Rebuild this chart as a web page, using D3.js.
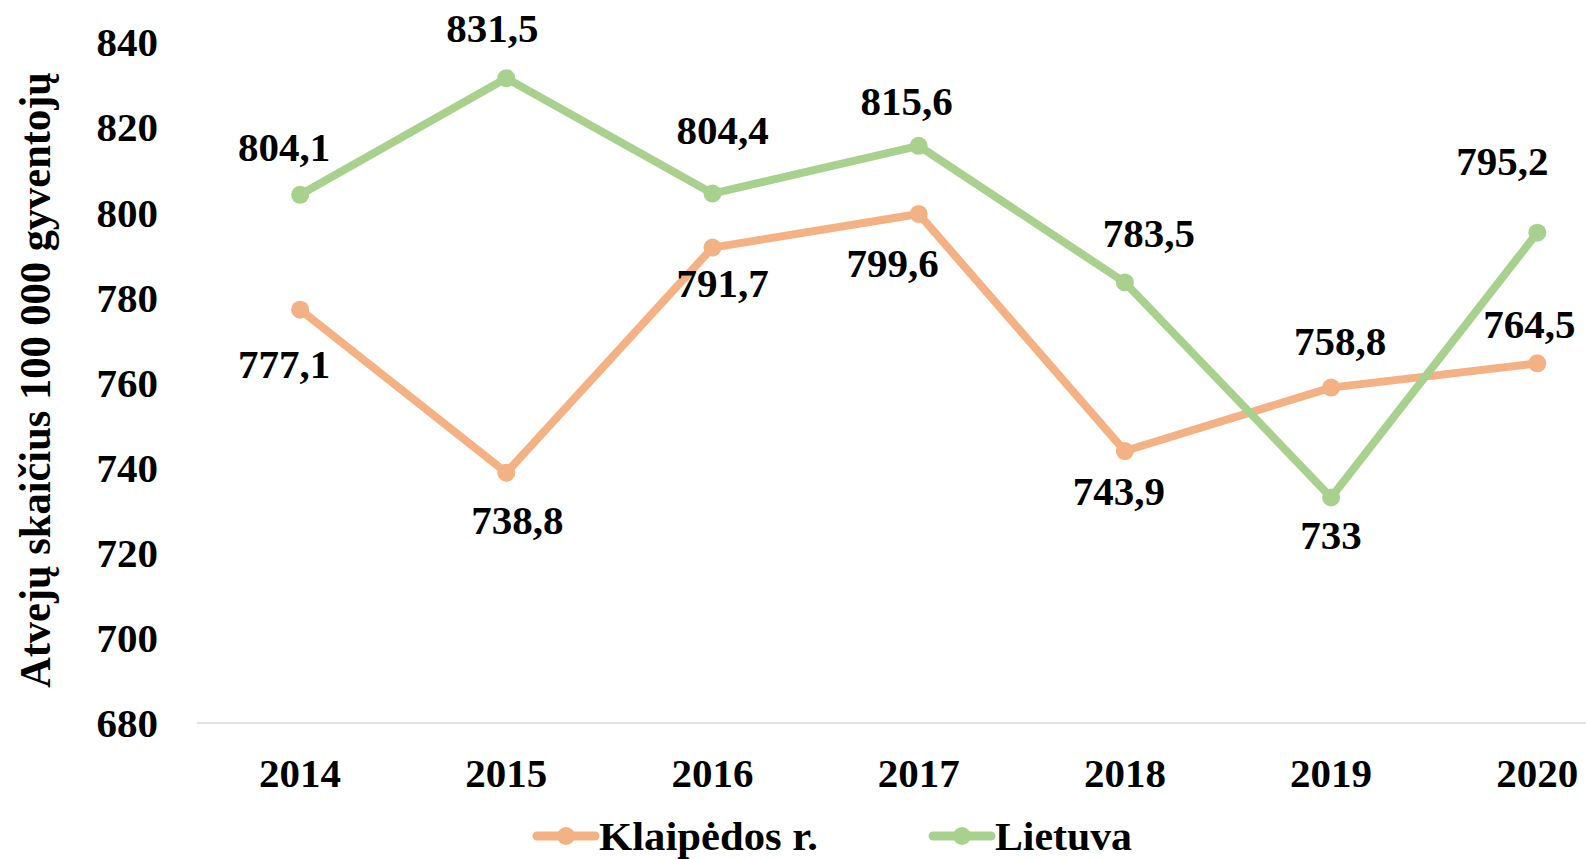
<!DOCTYPE html>
<html>
<head>
<meta charset="utf-8">
<script src="https://cdn.jsdelivr.net/npm/d3@7"></script>
<style>
  body { margin: 0; background: #fff; }
  svg { display: block; font-family: "Liberation Serif", "Times New Roman", serif; font-weight: bold; }
</style>
</head>
<body>
<svg id="vis-1"></svg>
<script>
const WIDTH = 1586;
const HEIGHT = 859;

// data
const years = ["2014", "2015", "2016", "2017", "2018", "2019", "2020"];
const klaipeda = [777.1, 738.8, 791.7, 799.6, 743.9, 758.8, 764.5];
const lietuva = [804.1, 831.5, 804.4, 815.6, 783.5, 733, 795.2];
const seriesNames = ["Klaipėdos r.", "Lietuva"];
const yTicks = [680, 700, 720, 740, 760, 780, 800, 820, 840];

// label placement (dx, dy from the point), like Excel put them
const klaipedaShift = [[-16, 54], [11, 47], [10, 35], [-26, 49], [-6, 40], [9, -47], [-8, -40]];
const lietuvaShift = [[-16, -48], [-14, -51], [10, -64], [-12, -45], [24, -50], [0, 37], [-35, -72]];

const colors = ["#F4B183", "#A9D18E"];
const legendWidths = [219, 137];

const SVG = d3.select("#vis-1")
    .attr("width", WIDTH)
    .attr("height", HEIGHT);

const x = d3.scaleBand()
    .domain(years)
    .range([197, 197 + 7 * 206.2]);

const y = d3.scaleLinear()
    .domain([680, 840])
    .range([723, 42]);

const fmt = v => String(v).replace(".", ",");

// baseline
SVG.append("line")
    .attr("x1", 197).attr("x2", WIDTH)
    .attr("y1", y(680)).attr("y2", y(680))
    .attr("stroke", "#d9d9d9")
    .attr("stroke-width", 1.5);

// y tick labels
SVG.append("g")
    .selectAll("text")
    .data(yTicks)
    .join("text")
    .attr("x", 158)
    .attr("y", d => y(d))
    .attr("dy", "0.35em")
    .attr("text-anchor", "end")
    .style("font-size", "41px")
    .text(d => d);

// x tick labels
SVG.append("g")
    .selectAll("text")
    .data(years)
    .join("text")
    .attr("x", d => x(d) + x.bandwidth() / 2)
    .attr("y", 773)
    .attr("dy", "0.35em")
    .attr("text-anchor", "middle")
    .style("font-size", "41px")
    .text(d => d);

// axis title (narrow, like the original)
SVG.append("text")
    .attr("transform", `translate(50,380) rotate(-90)`)
    .attr("text-anchor", "middle")
    .attr("textLength", 616)
    .attr("lengthAdjust", "spacingAndGlyphs")
    .style("font-size", "44px")
    .text("Atvejų skaičius 100 000 gyventojų");

const cx = i => x(years[i]) + x.bandwidth() / 2;

const line = d3.line()
    .x((d, i) => cx(i))
    .y(d => y(d));

const allSeries = [klaipeda, lietuva];
const shifts = [klaipedaShift, lietuvaShift];

allSeries.forEach((vals, s) => {
    const g = SVG.append("g");
    g.append("path")
        .datum(vals)
        .attr("fill", "none")
        .attr("stroke", colors[s])
        .attr("stroke-width", 8)
        .attr("stroke-linejoin", "round")
        .attr("d", line);
    g.selectAll("circle")
        .data(vals)
        .join("circle")
        .attr("cx", (d, i) => cx(i))
        .attr("cy", d => y(d))
        .attr("r", 9)
        .attr("fill", colors[s]);
});

// data labels on top
allSeries.forEach((vals, s) => {
    SVG.append("g")
        .selectAll("text")
        .data(vals)
        .join("text")
        .attr("x", (d, i) => cx(i) + shifts[s][i][0])
        .attr("y", (d, i) => y(d) + shifts[s][i][1])
        .attr("dy", "0.35em")
        .attr("text-anchor", "middle")
        .style("font-size", "41px")
        .text(d => fmt(d));
});

// legend
const legend = SVG.append("g");
const legendX = [537, 933];
seriesNames.forEach((name, s) => {
    const lg = legend.append("g").attr("transform", `translate(${legendX[s]},836)`);
    lg.append("line")
        .attr("x1", 0).attr("x2", 58)
        .attr("stroke", colors[s])
        .attr("stroke-width", 9)
        .attr("stroke-linecap", "round");
    lg.append("circle").attr("cx", 29).attr("r", 9).attr("fill", colors[s]);
    lg.append("text")
        .attr("x", 62)
        .attr("dy", "0.35em")
        .attr("textLength", legendWidths[s])
        .attr("lengthAdjust", "spacingAndGlyphs")
        .style("font-size", "41px")
        .text(name);
});
</script>
</body>
</html>
